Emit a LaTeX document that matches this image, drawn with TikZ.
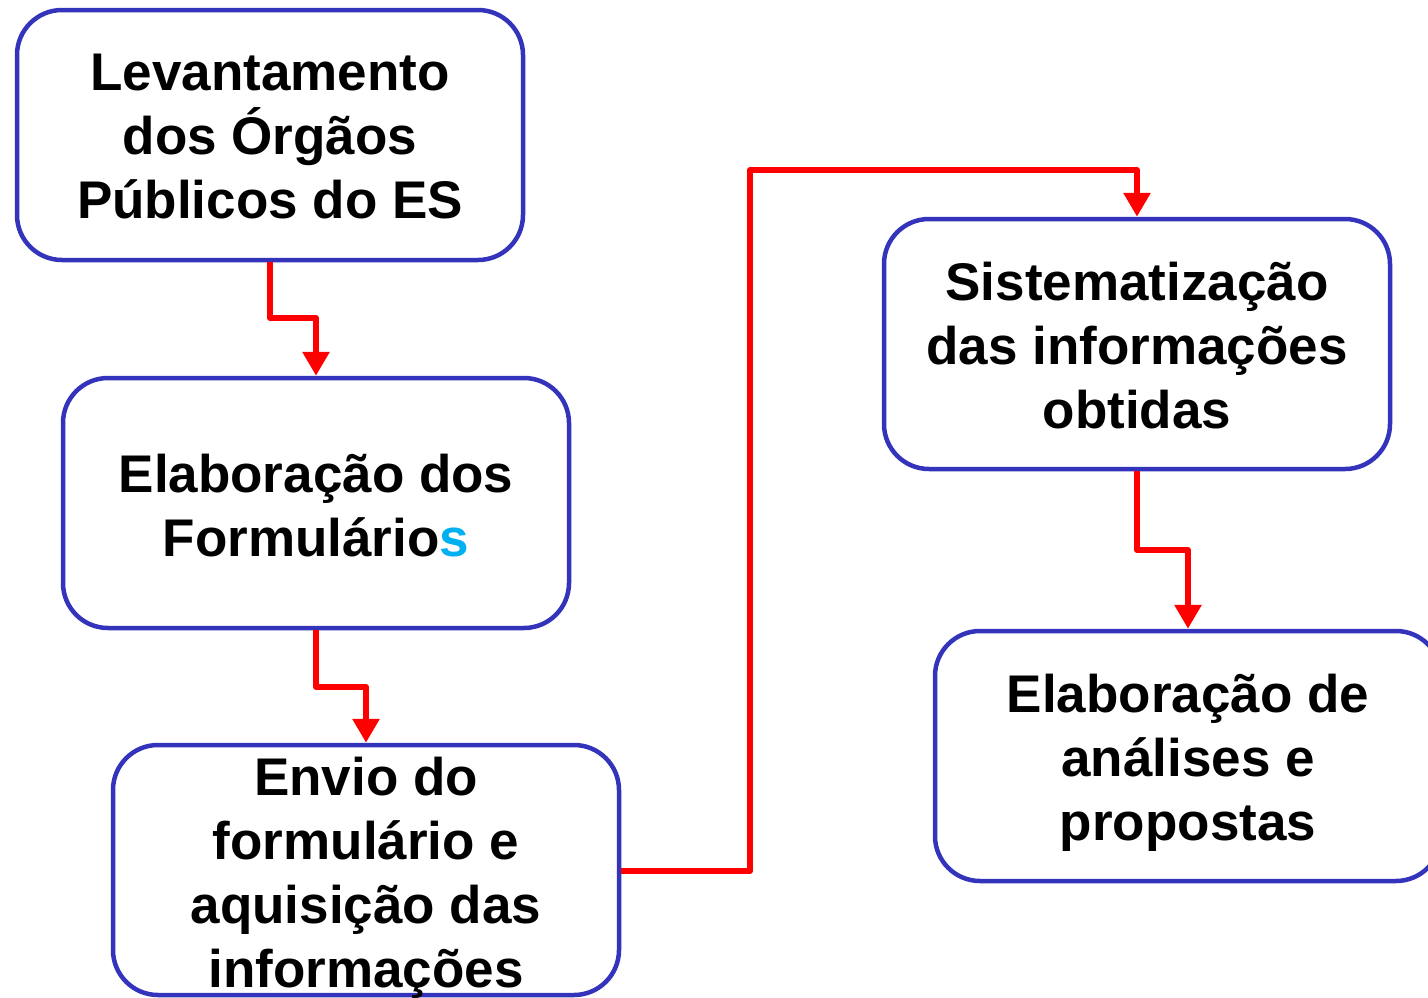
\documentclass[tikz,border=0pt]{standalone}
\usepackage{fontspec}
\setmainfont{Liberation Sans}
\usetikzlibrary{arrows.meta}
\definecolor{boxblue}{RGB}{51,51,187}
\definecolor{sblue}{RGB}{0,176,240}
\tikzset{
  procbox/.style={draw=boxblue, line width=4.5pt, rounded corners=45pt, fill=white,
    minimum width=506pt, minimum height=250pt, inner sep=0pt},
  boxtext/.style={align=center, inner sep=0pt, font=\fontsize{53}{64}\selectfont\bfseries},
  conn/.style={draw=red, line width=6pt, line join=round,
    -{Triangle[width=26pt,length=24pt]}},
}
\begin{document}
\begin{tikzpicture}[x=1pt,y=-1pt]
\useasboundingbox (0,0) rectangle (1428,997);
\node[procbox] (b1) at (270,135) {};
\node[procbox] (b2) at (316,503) {};
\node[procbox] (b3) at (366,870) {};
\node[procbox] (b4) at (1137,344) {};
\node[procbox] (b5) at (1188,756) {};
\node[boxtext] (t1) at ([yshift=-2pt]b1) {Levantamento\\dos Órgãos\\Públicos do ES};
\node[boxtext] (t2) at ([yshift=-3pt]b2) {Elaboração dos\\Formulário\textcolor{sblue}{s}};
\node[boxtext] (t3) at ([yshift=-8pt]b3) {Envio do\\formulário e\\aquisição das\\informações};
\node[boxtext] (t4) at ([yshift=-2pt]b4) {Sistematização\\das informações\\obtidas};
\node[boxtext] (t5) at ([yshift=-7pt]b5) {Elaboração de\\análises e\\propostas};
\draw[conn] (b1.south) -- (b1.south |- 0,318) -- (b2.north |- 0,318) -- (b2.north);
\draw[conn] (b2.south) -- (b2.south |- 0,687) -- (b3.north |- 0,687) -- (b3.north);
\draw[conn] (b3.east |- 0,871) -- (750,871) -- (750,170) -- (b4.north |- 0,170) -- (b4.north);
\draw[conn] (b4.south) -- (b4.south |- 0,550) -- (b5.north |- 0,550) -- (b5.north);
\end{tikzpicture}
\end{document}
